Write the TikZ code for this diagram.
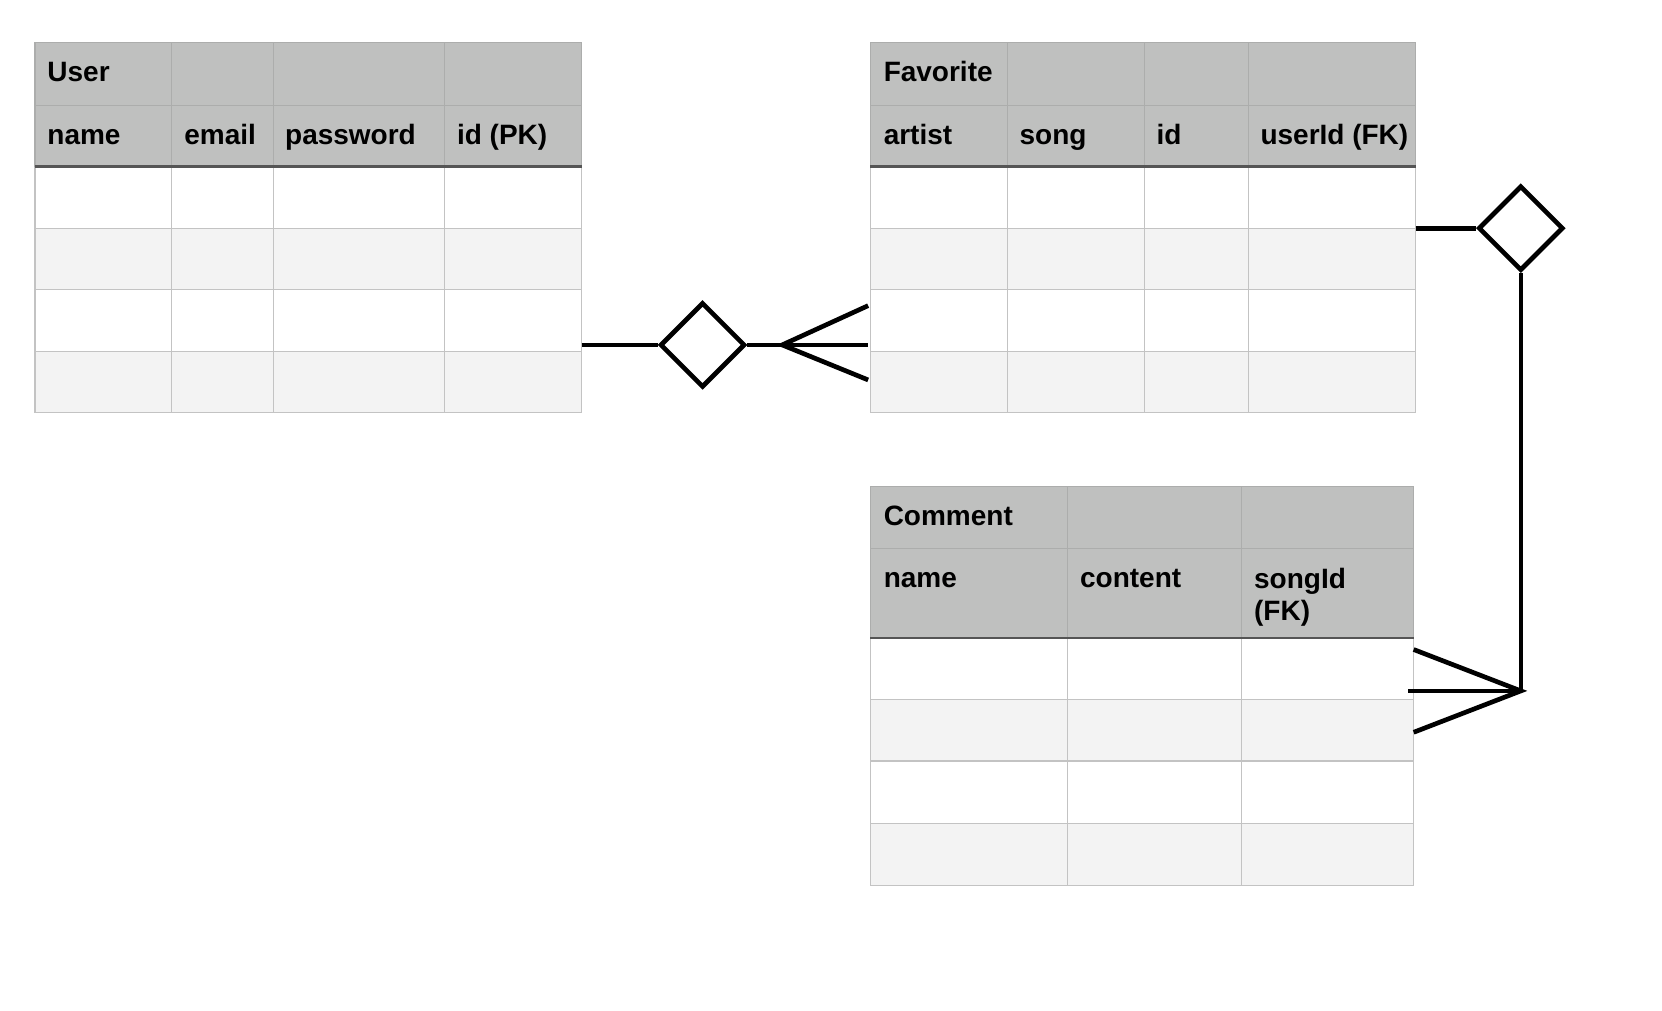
\documentclass[tikz,border=0pt]{standalone}
\usepackage{fontspec}
\setsansfont{Liberation Sans}
\usetikzlibrary{positioning,shapes.geometric}
\definecolor{hdrgray}{RGB}{191,192,191}
\definecolor{rowgray}{RGB}{243,243,243}
\definecolor{gridgray}{RGB}{195,195,195}
\definecolor{hdrline}{RGB}{172,173,172}
\definecolor{rulegray}{RGB}{85,85,85}
\tikzset{
  cell/.style = {anchor=base west, inner sep=0pt, align=left,
    font=\sffamily\bfseries\fontsize{7.5}{8.8}\selectfont},
  grid/.style = {draw=gridgray, line width=0.3pt},
  hgrid/.style = {draw=hdrline, line width=0.3pt},
  hrule/.style = {draw=rulegray, line width=0.7pt},
  rel/.style = {diamond, draw=black, line width=1.25pt, inner sep=0pt,
    minimum width=0.8cm, minimum height=0.8cm},% relationship diamond
  conn/.style = {draw=black, line width=1.25pt}
}

\begin{document}
\begin{tikzpicture}[x=0.01cm, y=-0.01cm]
\useasboundingbox (0,0) rectangle (1566,952);
%
% User table
\fill[hdrgray] (33,40) rectangle (548,157);
\fill[rowgray] (33,215) rectangle (548,273);
\fill[rowgray] (33,331) rectangle (548,389);
\draw[hgrid] (33,40) -- (548,40) (33,99) -- (548,99);
\draw[hgrid] (33,40) -- (33,157) (162,40) -- (162,157) (258,40) -- (258,157)
  (419,40) -- (419,157) (548,40) -- (548,157);
\draw[grid] (33,215) -- (548,215) (33,273) -- (548,273) (33,331) -- (548,331)
  (33,389) -- (548,389);
\draw[grid] (33,157) -- (33,389) (162,157) -- (162,389) (258,157) -- (258,389)
  (419,157) -- (419,389) (548,157) -- (548,389);
\draw[hrule] (33,157) -- (548,157);
\node (User) [cell] at (44,77) {User};
\node (UName) [cell] at (44,136) {name};
\node (UMail) [cell] at (173,136) {email};
\node (UPass) [cell] at (268,136) {password};
\node (UId) [cell] at (430,136) {id (PK)};
%
% Favorite table
\fill[hdrgray] (820,40) rectangle (1334,157);
\fill[rowgray] (820,215) rectangle (1334,273);
\fill[rowgray] (820,331) rectangle (1334,389);
\draw[hgrid] (820,40) -- (1334,40) (820,99) -- (1334,99);
\draw[hgrid] (820,40) -- (820,157) (949,40) -- (949,157) (1078,40) -- (1078,157)
  (1176,40) -- (1176,157) (1334,40) -- (1334,157);
\draw[grid] (820,215) -- (1334,215) (820,273) -- (1334,273) (820,331) -- (1334,331)
  (820,389) -- (1334,389);
\draw[grid] (820,157) -- (820,389) (949,157) -- (949,389) (1078,157) -- (1078,389)
  (1176,157) -- (1176,389) (1334,157) -- (1334,389);
\draw[hrule] (820,157) -- (1334,157);
\node (Fav) [cell] at (832,77) {Favorite};
\node (FArtist) [cell] at (832,136) {artist};
\node (FSong) [cell] at (960,136) {song};
\node (FId) [cell] at (1089,136) {id};
\node (FUser) [cell] at (1187,136) {userId (FK)};
%
% Comment table
\fill[hdrgray] (820,458) rectangle (1332,601);
\fill[rowgray] (820,659) rectangle (1332,717);
\fill[rowgray] (820,776) rectangle (1332,834);
\draw[hgrid] (820,458) -- (1332,458) (820,517) -- (1332,517);
\draw[hgrid] (820,458) -- (820,601) (1006,458) -- (1006,601) (1170,458) -- (1170,601)
  (1332,458) -- (1332,601);
\draw[grid] (820,659) -- (1332,659) (820,717) -- (1332,717) (820,776) -- (1332,776)
  (820,834) -- (1332,834);
\draw[grid] (820,601) -- (820,834) (1006,601) -- (1006,834) (1170,601) -- (1170,834)
  (1332,601) -- (1332,834);
\draw[hrule] (820,601) -- (1332,601);
\node (Com) [cell] at (832,495) {Comment};
\node (CName) [cell] at (832,554) {name};
\node (CText) [cell] at (1017,554) {content};
\node (CSong) [cell] at (1181,585) {songId\\(FK)};
%
% User -- Favorite
\coordinate (uEnd) at (548,325);
\coordinate (fEnd) at (818,325);
\coordinate (fTop) at (818,288);
\coordinate (fBot) at (818,358);
\coordinate (crowA) at (737,325);
\node (relA) [rel] at (662,325) {};
\draw[conn] (uEnd) -- (relA.west);
\draw[conn] (relA.east) -- (fEnd);
\draw[conn] (fTop) -- (crowA) -- (fBot);
%
% Favorite -- Comment
\coordinate (fRight) at (1334,215);
\coordinate (crowB) at (1433,651);
\coordinate (cTop) at (1332,612);
\coordinate (cBot) at (1332,690);
\coordinate (cMid) at (1327,651);
\node (relB) [rel] at (1433,215) {};
\draw[conn] (fRight) -- (relB.west);
\draw[conn] (relB) -- (crowB);
\draw[conn] (cTop) -- (crowB) -- (cBot);
\draw[conn] (cMid) -- (crowB);
\end{tikzpicture}
\end{document}
